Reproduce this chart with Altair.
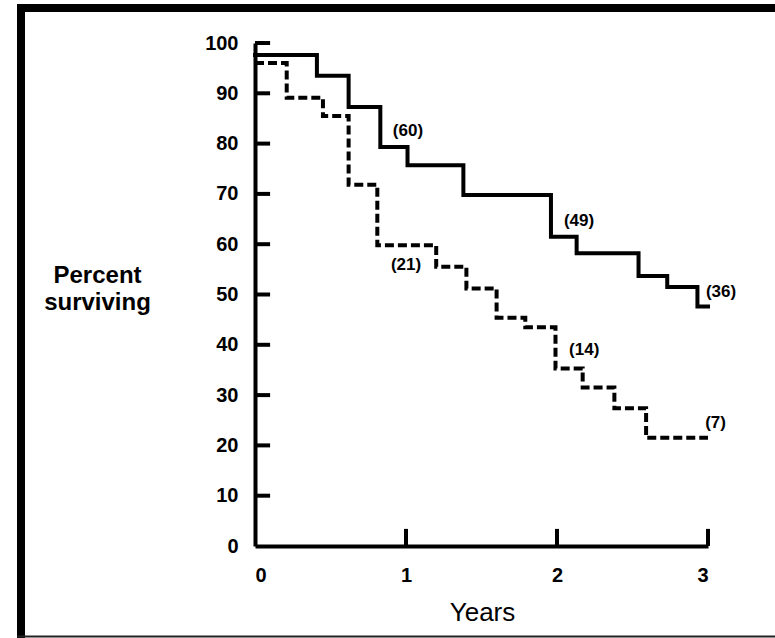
import altair as alt
import pandas as pd

# Kaplan-Meier style survival steps
solid_years = [0, 0.41, 0.62, 0.83, 1.01, 1.38, 1.96, 2.13, 2.54, 2.73, 2.93, 3.0]
solid_pct = [97.6, 93.5, 87.3, 79.3, 75.7, 69.8, 61.5, 58.2, 53.7, 51.5, 47.6, 47.6]

dashed_years = [0, 0.21, 0.45, 0.62, 0.81, 1.20, 1.40, 1.60, 1.79, 1.99, 2.17, 2.38, 2.59, 3.0]
dashed_pct = [96.0, 89.1, 85.5, 71.8, 59.8, 55.5, 51.2, 45.4, 43.5, 35.3, 31.5, 27.4, 21.5, 21.5]

# numbers at risk annotations
label_text = ["(60)", "(49)", "(36)", "(21)", "(14)", "(7)"]
label_years = [1.013, 2.146, 3.086, 1.0, 2.18, 3.05]
label_pct = [82.5, 64.6, 50.5, 55.9, 39.0, 24.5]

x_ticks = [0, 1, 2, 3]
y_ticks = [0, 10, 20, 30, 40, 50, 60, 70, 80, 90, 100]

solid_df = pd.DataFrame({"year": solid_years, "pct": solid_pct})
dashed_df = pd.DataFrame({"year": dashed_years, "pct": dashed_pct})
label_df = pd.DataFrame({"year": label_years, "pct": label_pct, "txt": label_text})
xtick_df = pd.DataFrame({"year": [t for t in x_ticks if t > 0], "lo": 0, "hi": 3.4})
ytick_df = pd.DataFrame({"pct": [t for t in y_ticks if t > 0], "lo": 0, "hi": 0.1})
one = pd.DataFrame({"a": [0]})

FONT = "Liberation Sans"

xscale = alt.Scale(domain=[0, 3], nice=False, zero=False)
yscale = alt.Scale(domain=[0, 100], nice=False, zero=False)

x_axis = alt.Axis(
    values=x_ticks, format="d", ticks=False, tickSize=0, grid=False,
    domainColor="black", domainWidth=4,
    labelFont=FONT, labelFontSize=20, labelFontWeight="bold", labelColor="black",
    labelPadding=19,
    title="Years", titleFont=FONT, titleFontSize=26, titleFontWeight="normal",
    titleColor="black", titleX=227, titleY=74, titleBaseline="alphabetic",
    titleAlign="center",
)
y_axis = alt.Axis(
    values=y_ticks, format="d", ticks=False, tickSize=0, grid=False,
    domainColor="black", domainWidth=4,
    labelFont=FONT, labelFontSize=20, labelFontWeight="bold", labelColor="black",
    labelPadding=17,
    title=["Percent", "surviving"], titleFont=FONT, titleFontSize=24,
    titleFontWeight="bold", titleColor="black", titleAngle=0,
    titleAlign="center", titleBaseline="alphabetic", titleX=-158, titleY=239,
    titleLineHeight=27,
)


def xenc(field):
    return alt.X(field, scale=xscale, axis=x_axis)


def yenc(field):
    return alt.Y(field, scale=yscale, axis=y_axis)


solid = alt.Chart(solid_df).mark_line(
    interpolate="step-after", color="black", strokeWidth=4, strokeCap="square"
).encode(x=xenc("year:Q"), y=yenc("pct:Q"))

dashed = alt.Chart(dashed_df).mark_line(
    interpolate="step-after", color="black", strokeWidth=4, strokeDash=[9, 4]
).encode(x=xenc("year:Q"), y=yenc("pct:Q"))

labels = alt.Chart(label_df).mark_text(
    font=FONT, fontSize=17, fontWeight="bold", color="black",
    align="center", baseline="middle",
).encode(x=xenc("year:Q"), y=yenc("pct:Q"), text="txt:N")

xticks = alt.Chart(xtick_df).mark_rule(color="black", strokeWidth=4).encode(
    x=xenc("year:Q"), y=yenc("lo:Q"), y2="hi:Q",
)

yticks = alt.Chart(ytick_df).mark_rule(color="black", strokeWidth=4).encode(
    y=yenc("pct:Q"), x=xenc("lo:Q"), x2="hi:Q",
)

# outer frame of the figure (decoration)
frame_top = alt.Chart(one).mark_rule(color="black", strokeWidth=8).encode(
    x=alt.value(-238), x2=alt.value(520), y=alt.value(-35)
)
frame_left = alt.Chart(one).mark_rule(color="black", strokeWidth=8).encode(
    x=alt.value(-234), y=alt.value(-39), y2=alt.value(595)
)
frame_bottom = alt.Chart(one).mark_rule(color="#222", strokeWidth=2).encode(
    x=alt.value(-238), x2=alt.value(520), y=alt.value(593.5)
)

chart = alt.layer(
    solid, dashed, xticks, yticks, labels,
    frame_top, frame_left, frame_bottom,
).properties(
    width=453, height=503,
    padding={"left": 255, "top": 43, "right": 67, "bottom": 92},
    autosize=alt.AutoSizeParams(type="none"),
    background="white",
).configure_view(stroke=None)

chart.save("out.html", embed_options={"renderer": "svg", "actions": False})
